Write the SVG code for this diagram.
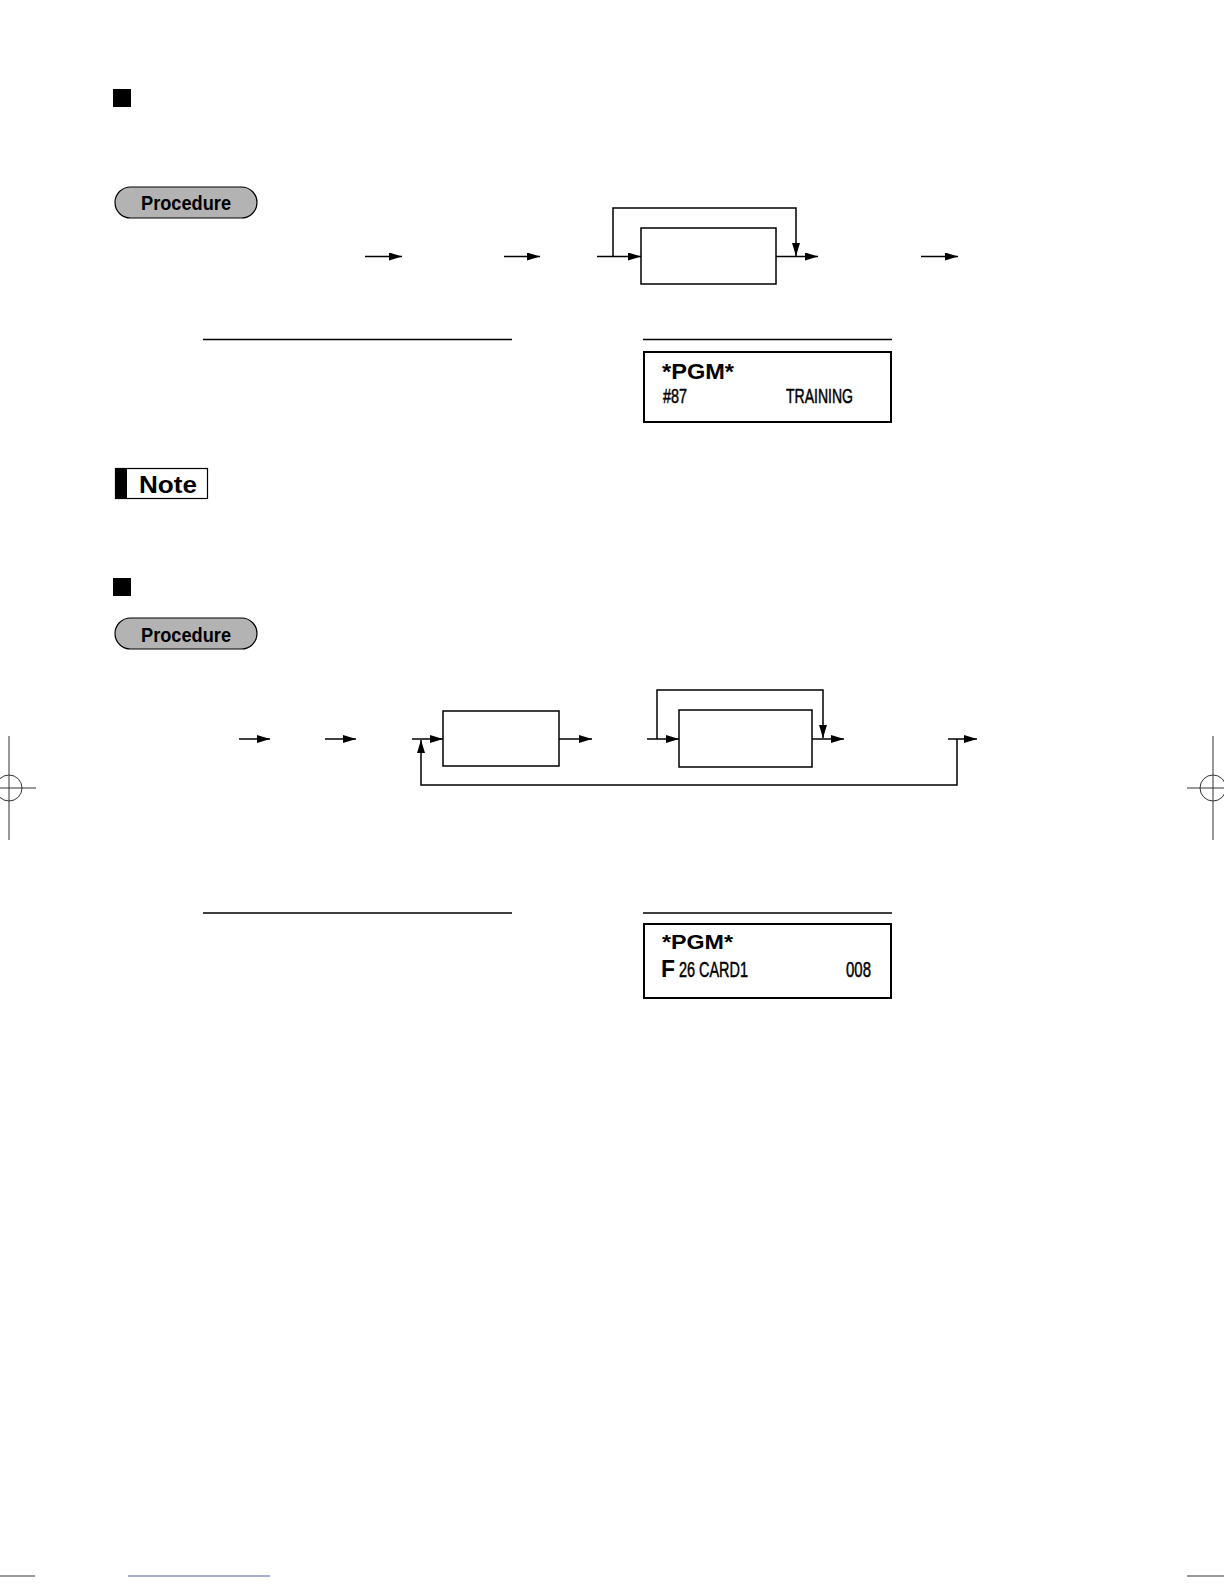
<svg xmlns="http://www.w3.org/2000/svg" width="1224" height="1584" viewBox="0 0 1224 1584">
<style>
.ln{fill:none;stroke:#000;stroke-width:1.5}
.box{fill:#fff;stroke:#000;stroke-width:1.5}
.pill{fill:#b3b3b3;stroke:#000;stroke-width:1.2}
.pt{font-family:"Liberation Sans",Arial,sans-serif;font-weight:bold;font-size:21px;fill:#000}
.disp{fill:#fff;stroke:#000;stroke-width:2}
.lcd{font-family:"Liberation Sans",Arial,sans-serif;fill:#000}
.lcdn{font-family:"Liberation Sans",Arial,sans-serif;fill:#000;stroke:#000;stroke-width:0.5}
.crop{fill:none;stroke:#333;stroke-width:1}
</style>
<defs>
<marker id="ah" markerWidth="13" markerHeight="8" refX="13" refY="4" orient="auto" markerUnits="userSpaceOnUse">
<path d="M0,0 L13,4 L0,8 Z" fill="#000"/>
</marker>
</defs>
<rect width="1224" height="1584" fill="#fff"/>

<g id="section1">
<rect id="bullet1" x="113" y="89" width="18" height="18" fill="#000"/>
<g id="procedure1">
<rect class="pill" x="115" y="187" width="142" height="31" rx="15.5"/>
<text class="pt" x="186" y="210" text-anchor="middle" textLength="90" lengthAdjust="spacingAndGlyphs">Procedure</text>
</g>
<g id="box1">
<rect class="box" x="641" y="228" width="135" height="56"/>
</g>
<g id="connectors1">
<line class="ln" x1="365" y1="256.5" x2="402" y2="256.5" marker-end="url(#ah)"/>
<line class="ln" x1="504" y1="256.5" x2="540" y2="256.5" marker-end="url(#ah)"/>
<line class="ln" x1="597" y1="256.5" x2="641" y2="256.5" marker-end="url(#ah)"/>
<polyline class="ln" points="613,256.5 613,208 796,208 796,256" marker-end="url(#ah)"/>
<line class="ln" x1="776" y1="256.5" x2="818" y2="256.5" marker-end="url(#ah)"/>
<line class="ln" x1="921" y1="256.5" x2="958" y2="256.5" marker-end="url(#ah)"/>
</g>
<line class="ln" x1="203" y1="339.5" x2="512" y2="339.5"/>
<line class="ln" x1="643" y1="339.5" x2="892" y2="339.5"/>
<g id="display1">
<rect class="disp" x="644" y="352" width="247" height="70"/>
<text class="lcd" x="662" y="379" font-size="22" font-weight="bold" textLength="72" lengthAdjust="spacingAndGlyphs">*PGM*</text>
<text class="lcdn" x="663" y="403" font-size="21" textLength="24" lengthAdjust="spacingAndGlyphs">#87</text>
<text class="lcdn" x="786" y="403" font-size="21" textLength="67" lengthAdjust="spacingAndGlyphs">TRAINING</text>
</g>
<g id="note">
<rect x="115.5" y="468.5" width="92" height="30" fill="#fff" stroke="#000" stroke-width="1.2"/>
<rect x="115" y="468" width="12" height="31" fill="#000"/>
<text x="139" y="493" font-family="Liberation Sans, Arial, sans-serif" font-weight="bold" font-size="23" textLength="58" lengthAdjust="spacingAndGlyphs">Note</text>
</g>
</g>

<g id="section2">
<rect id="bullet2" x="113" y="578" width="18" height="18" fill="#000"/>
<g id="procedure2">
<rect class="pill" x="115" y="618" width="142" height="31" rx="15.5"/>
<text class="pt" x="186" y="642" text-anchor="middle" textLength="90" lengthAdjust="spacingAndGlyphs">Procedure</text>
</g>
<g id="box2">
<rect class="box" x="443" y="711" width="116" height="55" stroke-width="2"/>
</g>
<g id="box3">
<rect class="box" x="679" y="710" width="133" height="57"/>
</g>
<g id="connectors2">
<line class="ln" x1="239" y1="739" x2="270" y2="739" marker-end="url(#ah)"/>
<line class="ln" x1="325" y1="739" x2="356" y2="739" marker-end="url(#ah)"/>
<line class="ln" x1="412" y1="739" x2="443" y2="739" marker-end="url(#ah)"/>
<line class="ln" x1="559" y1="739" x2="592" y2="739" marker-end="url(#ah)"/>
<line class="ln" x1="647" y1="739" x2="679" y2="739" marker-end="url(#ah)"/>
<polyline class="ln" points="657,739 657,690 823,690 823,738" marker-end="url(#ah)"/>
<line class="ln" x1="812" y1="739" x2="844" y2="739" marker-end="url(#ah)"/>
<line class="ln" x1="948" y1="739" x2="977" y2="739" marker-end="url(#ah)"/>
<polyline class="ln" points="957,739 957,785 421,785 421,740" marker-end="url(#ah)"/>
</g>
<line class="ln" x1="203" y1="913" x2="512" y2="913"/>
<line class="ln" x1="643" y1="913" x2="892" y2="913"/>
<g id="display2">
<rect class="disp" x="644" y="924" width="247" height="74"/>
<text class="lcd" x="662" y="949" font-size="21" font-weight="bold" textLength="71" lengthAdjust="spacingAndGlyphs">*PGM*</text>
<text class="lcd" x="661" y="977" font-size="24" font-weight="bold" textLength="14" lengthAdjust="spacingAndGlyphs">F</text>
<text class="lcdn" x="679" y="977" font-size="22" textLength="69" lengthAdjust="spacingAndGlyphs">26 CARD1</text>
<text class="lcdn" x="846" y="977" font-size="22" textLength="25" lengthAdjust="spacingAndGlyphs">008</text>
</g>
</g>

<g id="cropmarks">
<line class="crop" x1="9" y1="736" x2="9" y2="840"/>
<line class="crop" x1="0" y1="788" x2="36" y2="788"/>
<circle class="crop" cx="9" cy="788" r="13"/>
<line class="crop" x1="1213" y1="736" x2="1213" y2="840" stroke="#999"/>
<line class="crop" x1="1187" y1="788" x2="1224" y2="788"/>
<circle class="crop" cx="1213" cy="788" r="13"/>
<line class="crop" x1="0" y1="1576" x2="35" y2="1576"/>
<line x1="128" y1="1576" x2="270" y2="1576" stroke="#4a5fb0" stroke-width="1"/>
<line class="crop" x1="1187" y1="1576" x2="1224" y2="1576"/>
</g>
</svg>
